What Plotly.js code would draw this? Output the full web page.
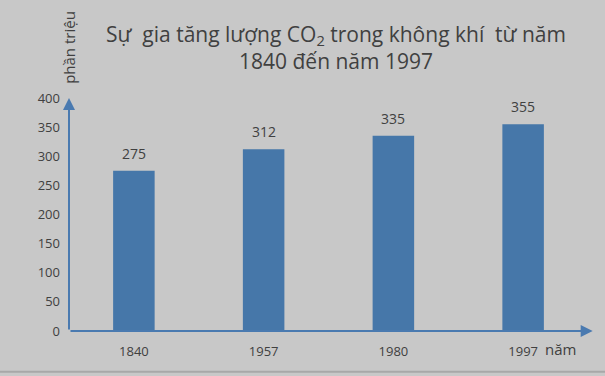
<!DOCTYPE html>
<html>
<head>
<meta charset="utf-8">
<script src="https://cdn.plot.ly/plotly-3.0.1.min.js"></script>
<style>html,body{margin:0;padding:0;background:#c8c8c8;}#chart{width:605px;height:376px;}</style>
</head>
<body>
<div id="chart"></div>
<script>
const years = ["1840", "1957", "1980", "1997"];
const co2 = [275, 312, 335, 355];
const yTicks = [0, 50, 100, 150, 200, 250, 300, 350, 400];
const titleText = "Sự  gia tăng lượng CO<sub>2</sub> trong không khí  từ năm<br>1840 đến năm 1997";
const yLabel = "phần triệu";
const xLabel = "năm";

const barColor = "#4677a9";
const axisColor = "#4a7ab0";
const font = "Open Sans, Noto Sans, sans-serif";

const trace = {
  type: "bar",
  x: years,
  y: co2,
  marker: {color: barColor},
  hoverinfo: "none"
};

const valueLabels = years.map((yr, i) => ({
  xref: "x", yref: "y", x: i, y: co2[i],
  text: String(co2[i]), showarrow: false,
  yanchor: "bottom", yshift: 6,
  font: {family: font, size: 14, color: "#404040"}
}));

const layout = {
  width: 605, height: 376,
  paper_bgcolor: "#c8c8c8",
  plot_bgcolor: "rgba(0,0,0,0)",
  margin: {l: 69, r: 17, t: 98, b: 45},
  showlegend: false,
  bargap: 0.68,
  xaxis: {
    type: "category",
    categoryarray: years,
    range: [-0.5, years.length - 0.5],
    autorange: false,
    showline: false, showgrid: false, zeroline: false,
    ticks: "",
    tickfont: {family: font, size: 13, color: "#404040"},
    ticklabelstandoff: 11
  },
  yaxis: {
    range: [0, 400],
    autorange: false,
    tickvals: yTicks,
    showline: false, showgrid: false, zeroline: false,
    ticks: "",
    tickfont: {family: font, size: 13, color: "#404040"},
    ticklabelstandoff: 8
  },
  shapes: [
    {type: "line", xref: "paper", yref: "paper", x0: -0.135, x1: 1.05, y0: -0.175, y1: -0.175,
     line: {color: "#a8a8a8", width: 2}}
  ],
  annotations: [
    {xref: "paper", yref: "paper", x: 0, y: 1.0, ax: 0, ay: 0, axref: "paper", ayref: "paper",
     showarrow: true, arrowhead: 2, arrowsize: 1.2, arrowwidth: 2, arrowcolor: axisColor, text: ""},
    {xref: "paper", yref: "paper", x: 1.009, y: 0, ax: 0, ay: 0, axref: "paper", ayref: "paper",
     showarrow: true, arrowhead: 2, arrowsize: 1.2, arrowwidth: 2, arrowcolor: axisColor, text: ""},
    {xref: "paper", yref: "paper", x: 0.515, y: 1.215, xanchor: "center", yanchor: "middle",
     text: titleText, showarrow: false, align: "center",
     font: {family: font, size: 21, color: "#404040"}},
    {xref: "paper", yref: "paper", x: 0.0, y: 1.05, xanchor: "center", yanchor: "bottom",
     text: yLabel, textangle: -90, showarrow: false,
     font: {family: font, size: 15, color: "#404040"}},
    {xref: "paper", yref: "paper", x: 0.913, y: -0.077, xanchor: "left", yanchor: "middle",
     text: xLabel, showarrow: false,
     font: {family: font, size: 15, color: "#404040"}}
  ].concat(valueLabels)
};

Plotly.newPlot("chart", [trace], layout, {displayModeBar: false, staticPlot: true});
</script>
</body>
</html>
